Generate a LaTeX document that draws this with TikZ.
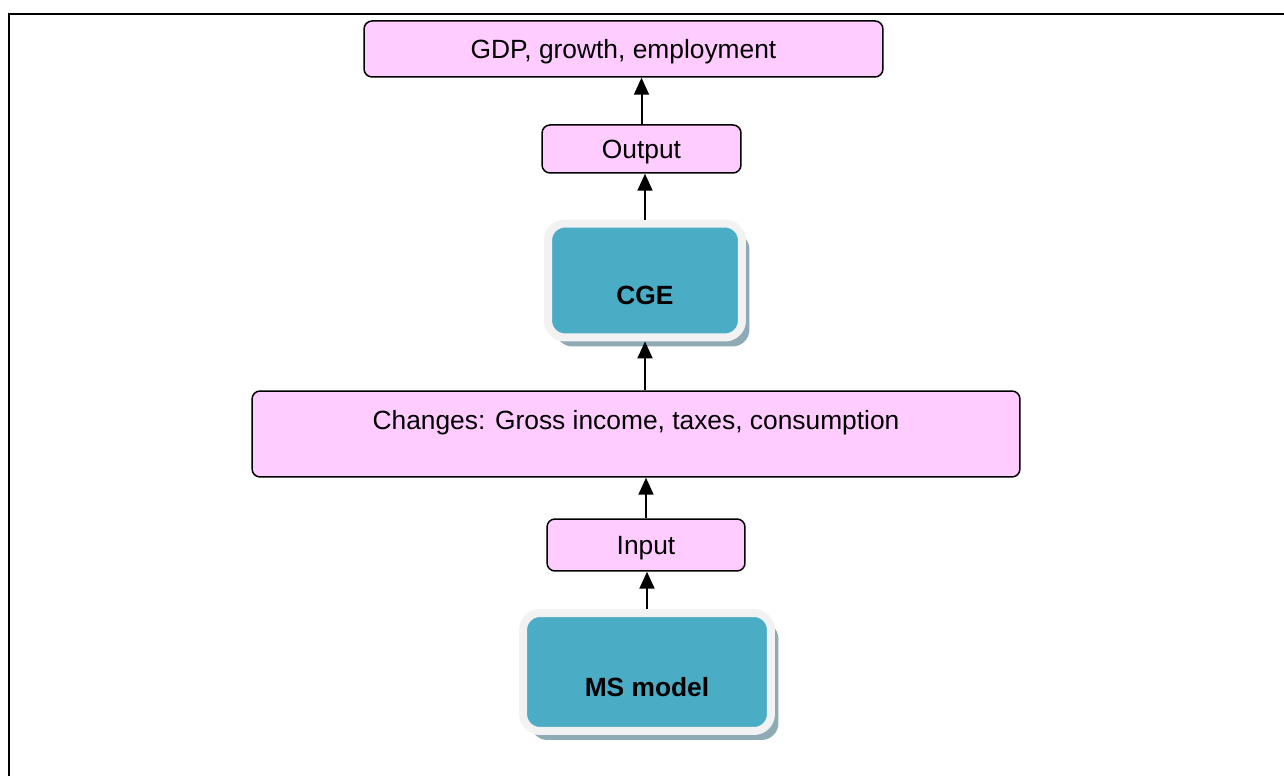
\documentclass[tikz,border=0pt]{standalone}
\usepackage{fontspec}
\setmainfont{Liberation Sans}
\usetikzlibrary{arrows.meta,shadows}
\definecolor{boxpink}{HTML}{FFCCFF}
\definecolor{modelteal}{HTML}{4BACC6}
\definecolor{modelring}{HTML}{F2F2F2}
\definecolor{modelshade}{HTML}{8EAAB4}

\begin{document}
\begin{tikzpicture}[x=0.02cm,y=-0.02cm,
    font=\fontsize{15}{18}\selectfont, text depth=0pt,
    pinkbox/.style={draw, fill=boxpink, line width=0.03cm, rounded corners=0.16cm, inner sep=0pt},
    modelbox/.style={draw=modelring, fill=modelteal, line width=0.16cm, rounded corners=0.34cm,
      drop shadow={shadow xshift=0.15cm, shadow yshift=-0.18cm, fill=modelshade, opacity=1}},
    modeltext/.style={font=\fontsize{15}{18}\selectfont\bfseries},
    arr/.style={-{Triangle[length=0.34cm,width=0.3cm]}, line width=0.04cm}]
  \useasboundingbox (0,0) rectangle (1284,776);
  \draw [line width=0.05cm] (9,776) -- (9,14) -- (1284,14);

  \node[pinkbox, minimum width=10.38cm, minimum height=1.12cm] (gdp) at (623.5,49) {GDP, growth, employment};
  \node[pinkbox, minimum width=3.98cm, minimum height=0.96cm] (output) at (641.5,149) {Output};
  \node[modelbox, minimum width=3.88cm, minimum height=2.28cm,
        label={[modeltext, yshift=-0.3cm]center:CGE}] (cge) at (645,280.5) {};
  \node[pinkbox, minimum width=15.36cm, minimum height=1.72cm,
        label={[yshift=0.28cm]center:Changes: Gross income, taxes, consumption}] (changes) at (636,434) {};
  \node[pinkbox, minimum width=3.96cm, minimum height=1.04cm] (input) at (646,545) {Input};
  \node[modelbox, minimum width=4.96cm, minimum height=2.36cm,
        label={[modeltext, yshift=-0.3cm]center:MS model}] (ms) at (647,672) {};

  \draw [arr] (ms.north) -- (ms.north |- input.south);
  \draw [arr] (input.north) -- (input.north |- changes.south);
  \draw [arr] (changes.north -| cge.south) -- (cge.south);
  \draw [arr] (cge.north) -- (cge.north |- output.south);
  \draw [arr] (output.north) -- (output.north |- gdp.south);
\end{tikzpicture}
\end{document}
